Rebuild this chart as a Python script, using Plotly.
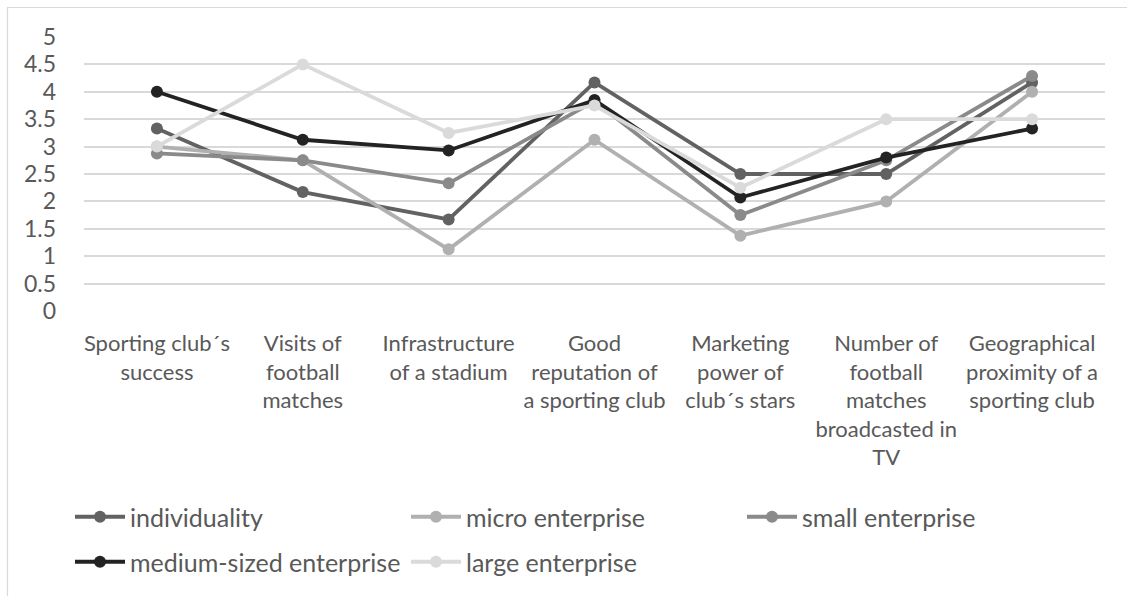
import plotly.graph_objects as go

categories = [
    "Sporting club´s<br>success",
    "Visits of<br>football<br>matches",
    "Infrastructure<br>of a stadium",
    "Good<br>reputation of<br>a sporting club",
    "Marketing<br>power of<br>club´s stars",
    "Number of<br>football<br>matches<br>broadcasted in<br>TV",
    "Geographical<br>proximity of a<br>sporting club",
]

individuality = [3.33, 2.17, 1.67, 4.17, 2.5, 2.5, 4.17]
micro_enterprise = [3.0, 2.75, 1.125, 3.125, 1.375, 2.0, 4.0]
small_enterprise = [2.875, 2.75, 2.33, 3.83, 1.75, 2.75, 4.29]
medium_enterprise = [4.0, 3.125, 2.93, 3.85, 2.07, 2.8, 3.33]
large_enterprise = [3.0, 4.5, 3.25, 3.75, 2.25, 3.5, 3.5]

y_ticks = [0, 0.5, 1, 1.5, 2, 2.5, 3, 3.5, 4, 4.5, 5]
y_tick_text = ["0", "0.5", "1", "1.5", "2", "2.5", "3", "3.5", "4", "4.5", "5"]

series = [
    ("individuality", individuality, "#626262", "legend"),
    ("micro enterprise", micro_enterprise, "#b0b0b0", "legend"),
    ("small enterprise", small_enterprise, "#8a8a8a", "legend"),
    ("medium-sized enterprise", medium_enterprise, "#232323", "legend2"),
    ("large enterprise", large_enterprise, "#dadada", "legend2"),
]

FONT = "Lato, Carlito, Calibri, sans-serif"
TEXT = "#595959"

W, H = 1127, 596
ML, MR, MT, MB = 84, 22, 37, 285
PW, PH = W - ML - MR, H - MT - MB


def px_x(px):
    return (px - ML) / PW


def px_y(py):
    return (H - MB - py) / PH


fig = go.Figure()
for name, vals, color, leg in series:
    fig.add_trace(go.Scatter(
        x=categories, y=vals, name=name, mode="lines+markers",
        line=dict(color=color, width=3.8),
        marker=dict(color=color, size=12),
        legend=leg,
    ))

legend_common = dict(
    orientation="h", xanchor="left", yanchor="middle",
    entrywidth=271, entrywidthmode="pixels", itemwidth=50,
    font=dict(family=FONT, size=25, color=TEXT),
    bgcolor="rgba(0,0,0,0)", borderwidth=0,
    itemclick=False, itemdoubleclick=False,
)

fig.update_layout(
    width=W, height=H,
    margin=dict(l=ML, r=MR, t=MT, b=MB, autoexpand=False),
    paper_bgcolor="white", plot_bgcolor="white",
    font=dict(family=FONT, size=22, color=TEXT),
    showlegend=True,
    legend=dict(x=px_x(70), y=px_y(517), **legend_common),
    legend2=dict(x=px_x(70), y=px_y(562), **legend_common),
    xaxis=dict(
        showgrid=False, zeroline=False, showline=False,
        tickfont=dict(family=FONT, size=22, color=TEXT),
        ticks="", range=[-0.5, 6.5],
        ticklabelstandoff=17,
    ),
    yaxis=dict(
        range=[0, 5], tickvals=y_ticks, ticktext=y_tick_text,
        showgrid=True, gridcolor="#d9d9d9", gridwidth=1.5,
        zeroline=False, showline=False, ticks="",
        ticklabelstandoff=27,
        tickfont=dict(family=FONT, size=23, color=TEXT),
    ),
    shapes=[dict(
        type="rect", xref="paper", yref="paper",
        x0=px_x(7.5), x1=px_x(1140), y0=px_y(610), y1=px_y(7.5),
        line=dict(color="#d9d9d9", width=1.2), fillcolor="rgba(0,0,0,0)",
        layer="below",
    )],
)

fig.write_html("out.html")
